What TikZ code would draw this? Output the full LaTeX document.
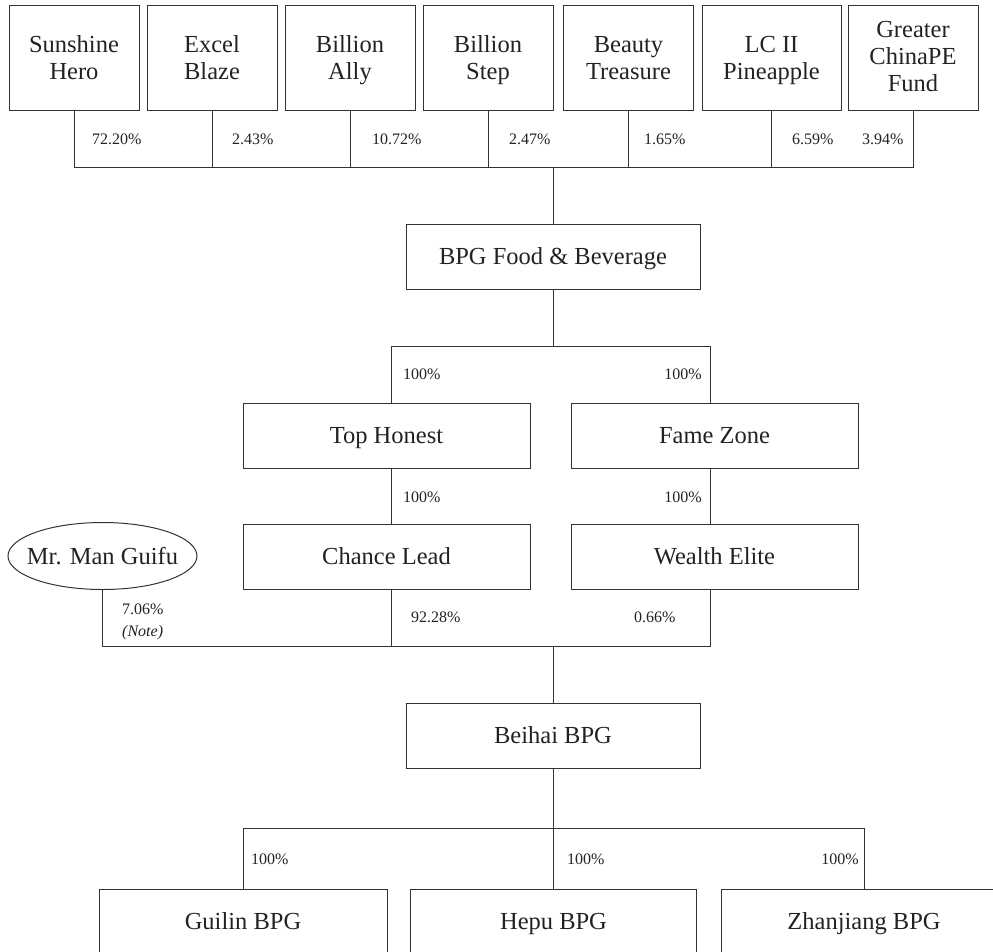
\documentclass[tikz,border=0pt]{standalone}
\usepackage{fontspec}
\setmainfont{Liberation Serif}
\usetikzlibrary{shapes.geometric}
\definecolor{linegray}{RGB}{51,51,51}
\definecolor{textgray}{RGB}{34,34,34}
\tikzset{
  entity/.style={draw=linegray,line width=1pt,text=textgray,align=center,inner sep=0pt,
    minimum height=65pt,text height=21.9pt,text depth=5.1pt,font=\fontsize{24.5}{27}\selectfont},
  twolines/.style={text height=48.9pt},
  threelines/.style={text height=74.9pt,text depth=6.1pt},
  share/.style={inner sep=0pt,text=textgray,font=\fontsize{16}{18}\selectfont},
}
\begin{document}
\begin{tikzpicture}[x=1pt,y=-1pt]
        \useasboundingbox (0,0) rectangle (993,951);
        \clip (0,0) rectangle (993,951);
        % shareholders
        \begin{scope}[every node/.style={entity,twolines,minimum height=105pt,minimum width=130pt}]
          \node (hero) at (74,57.5) {Sunshine\\Hero};
          \node (blaze) at (212,57.5) {Excel\\Blaze};
          \node (ally) at (350,57.5) {Billion\\Ally};
          \node (step) at (488,57.5) {Billion\\Step};
          \node (beauty) at (628.5,57.5) {Beauty\\Treasure};
          \node (pineapple) at (771.5,57.5) [minimum width=139pt] {LC II\\Pineapple};
          \node (gcpe) at (913,57.5) [threelines] {Greater\\ChinaPE\\Fund};
        \end{scope}
        % group companies
        \begin{scope}[every node/.style={entity}]
          \node (bpg) at (553,256.5) [minimum width=294pt] {BPG Food \& Beverage};
          \node (honest) at (386.5,435.5) [minimum width=287pt] {Top Honest};
          \node (fame) at (714.5,435.5) [minimum width=287pt] {Fame Zone};
          \node (chance) at (386.5,556.5) [minimum width=287pt] {Chance Lead};
          \node (wealth) at (714.5,556.5) [minimum width=287pt] {Wealth Elite};
          \node (beihai) at (553,735.5) [minimum width=294pt] {Beihai BPG};
          \node (guilin) at (243,921.5) [minimum width=288pt] {Guilin BPG};
          \node (hepu) at (553.5,921.5) [minimum width=286pt] {Hepu BPG};
          \node (zhanjiang) at (864,921.5) [minimum width=286pt] {Zhanjiang BPG};
          \node (guifu) at (102.5,556) [draw=none,minimum width=189pt,minimum height=67pt] {Mr. Man Guifu};
        \end{scope}
        \draw[linegray,line width=1pt] (guifu.center) ellipse (94.5 and 33.5);
        % bus points
        \coordinate (topbus) at (553,167);
        \coordinate (midbus) at (553,346);
        \coordinate (lowbus) at (553,646);
        \coordinate (botbus) at (553,828);
        % connectors
        \begin{scope}[draw=linegray,line width=1pt]
          \foreach \n in {hero,blaze,ally,step,beauty,pineapple,gcpe}
            \draw (\n.south) |- (topbus);
          \draw (topbus) -- (bpg.north);
          \draw (bpg.south) -- (midbus);
          \draw (midbus) -| ([xshift=5pt]honest.north);
          \draw (midbus) -| ([xshift=-4pt]fame.north);
          \draw ([xshift=5pt]honest.south) -- ([xshift=5pt]chance.north);
          \draw ([xshift=-4pt]fame.south) -- ([xshift=-4pt]wealth.north);
          \draw (guifu.south) |- (lowbus);
          \draw ([xshift=5pt]chance.south) |- (lowbus);
          \draw ([xshift=-4pt]wealth.south) |- (lowbus);
          \draw (lowbus) -- (beihai.north);
          \draw (beihai.south) -- (botbus);
          \draw (botbus) -| (guilin.north);
          \draw (botbus) -| (hepu.north);
          \draw (botbus) -| (zhanjiang.north);
        \end{scope}
        % percentages
        \begin{scope}[every node/.style={share,anchor=west}]
          \node (p1) at (92,139) {72.20\%};
          \node (p2) at (232,139) {2.43\%};
          \node (p3) at (372,139) {10.72\%};
          \node (p4) at (509,139) {2.47\%};
          \node (p5) at (644,139) {1.65\%};
          \node (p6) at (792,139) {6.59\%};
          \node (p7) at (862,139) {3.94\%};
          \node (ph) at (403,374) {100\%};
          \node (pf) at (702,374) [anchor=east] {100\%};
          \node (pc) at (403,497) {100\%};
          \node (pw) at (702,497) [anchor=east] {100\%};
          \node (pg) at (122,609) {7.06\%};
          \node (note) at (122,633) {\itshape (Note)};
          \node (pcl) at (411,617) {92.28\%};
          \node (pwe) at (634,617) {0.66\%};
          \node (pgu) at (251,859) {100\%};
          \node (phe) at (567,859) {100\%};
          \node (pzh) at (859,859) [anchor=east] {100\%};
        \end{scope}
\end{tikzpicture}
\end{document}
